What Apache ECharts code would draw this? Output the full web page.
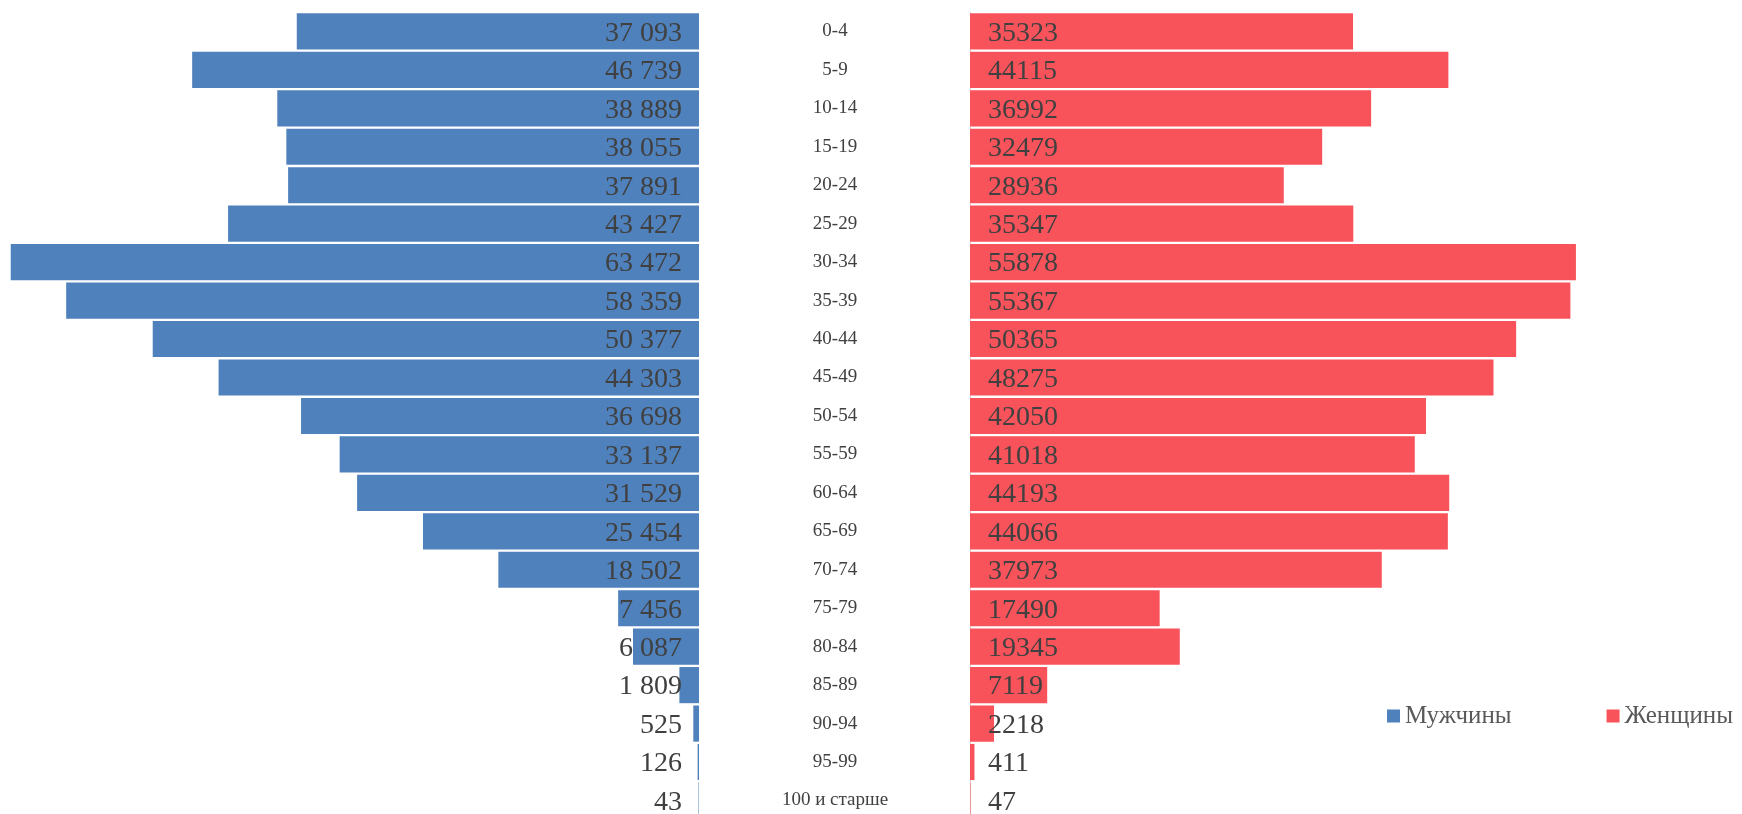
<!DOCTYPE html>
<html>
<head>
<meta charset="utf-8">
<script src="https://cdn.jsdelivr.net/npm/echarts@6/dist/echarts.min.js"></script>
<style>
  html, body { margin: 0; padding: 0; background: #fff; overflow: hidden; }
  /* the last row runs a few pixels past the bottom edge of the window */
  #chart { width: 1742px; height: 830px; }
</style>
</head>
<body>
<div id="chart"></div>
<script>
// Age groups, top to bottom
const ageGroups = ['0-4', '5-9', '10-14', '15-19', '20-24', '25-29', '30-34', '35-39', '40-44',
  '45-49', '50-54', '55-59', '60-64', '65-69', '70-74', '75-79', '80-84', '85-89', '90-94',
  '95-99', '100 и старше'];
// Population by sex
const men = [37093, 46739, 38889, 38055, 37891, 43427, 63472, 58359, 50377, 44303, 36698,
  33137, 31529, 25454, 18502, 7456, 6087, 1809, 525, 126, 43];
const women = [35323, 44115, 36992, 32479, 28936, 35347, 55878, 55367, 50365, 48275, 42050,
  41018, 44193, 44066, 37973, 17490, 19345, 7119, 2218, 411, 47];
const seriesNames = ['Мужчины', 'Женщины'];

const FONT = 'Liberation Serif';
const textColor = '#404040';
const axisMax = 64000;

const groupDigits = v => String(v).replace(/\B(?=(\d{3})+(?!\d))/g, ' ');

const chart = echarts.init(document.getElementById('chart'), null, { renderer: 'canvas' });
chart.setOption({
  animation: false,
  textStyle: { fontFamily: FONT },
  legend: {
    data: seriesNames,
    left: 1387,
    top: 703.5,
    width: 355,
    padding: 0,
    itemWidth: 13,
    itemHeight: 13,
    itemGap: 95,
    icon: 'rect',
    textStyle: { fontFamily: FONT, fontSize: 25, color: '#595959' }
  },
  grid: [
    { left: 5, width: 694, top: 12.2, height: 807.5 },
    { left: 970, width: 694, top: 12.2, height: 807.5 }
  ],
  xAxis: [
    { gridIndex: 0, type: 'value', min: 0, max: axisMax, inverse: true, show: false },
    { gridIndex: 1, type: 'value', min: 0, max: axisMax, show: false }
  ],
  yAxis: [
    {
      gridIndex: 0, type: 'category', data: ageGroups, inverse: true, position: 'right',
      axisLine: { show: false }, axisTick: { show: false },
      axisLabel: {
        align: 'center', margin: 136, fontFamily: FONT, fontSize: 19, color: textColor,
        padding: [4, 0, 0, 0]
      }
    },
    {
      gridIndex: 1, type: 'category', data: ageGroups, inverse: true, position: 'left',
      axisLine: { show: true, lineStyle: { color: '#d9d9d9', width: 1 } },
      axisTick: { show: false }, axisLabel: { show: false }
    }
  ],
  series: [
    {
      name: seriesNames[0], type: 'bar', xAxisIndex: 0, yAxisIndex: 0, data: men,
      barCategoryGap: '6%',
      itemStyle: { color: '#4F81BD' },
      label: {
        show: true, position: 'insideRight', distance: 17, offset: [0, 2],
        fontFamily: FONT, fontSize: 28, color: textColor,
        formatter: p => groupDigits(p.value)
      }
    },
    {
      name: seriesNames[1], type: 'bar', xAxisIndex: 1, yAxisIndex: 1, data: women,
      barCategoryGap: '6%',
      itemStyle: { color: '#F8535A' },
      label: {
        show: true, position: 'insideLeft', distance: 18, offset: [0, 2],
        fontFamily: FONT, fontSize: 28, color: textColor
      }
    }
  ]
});
</script>
</body>
</html>
